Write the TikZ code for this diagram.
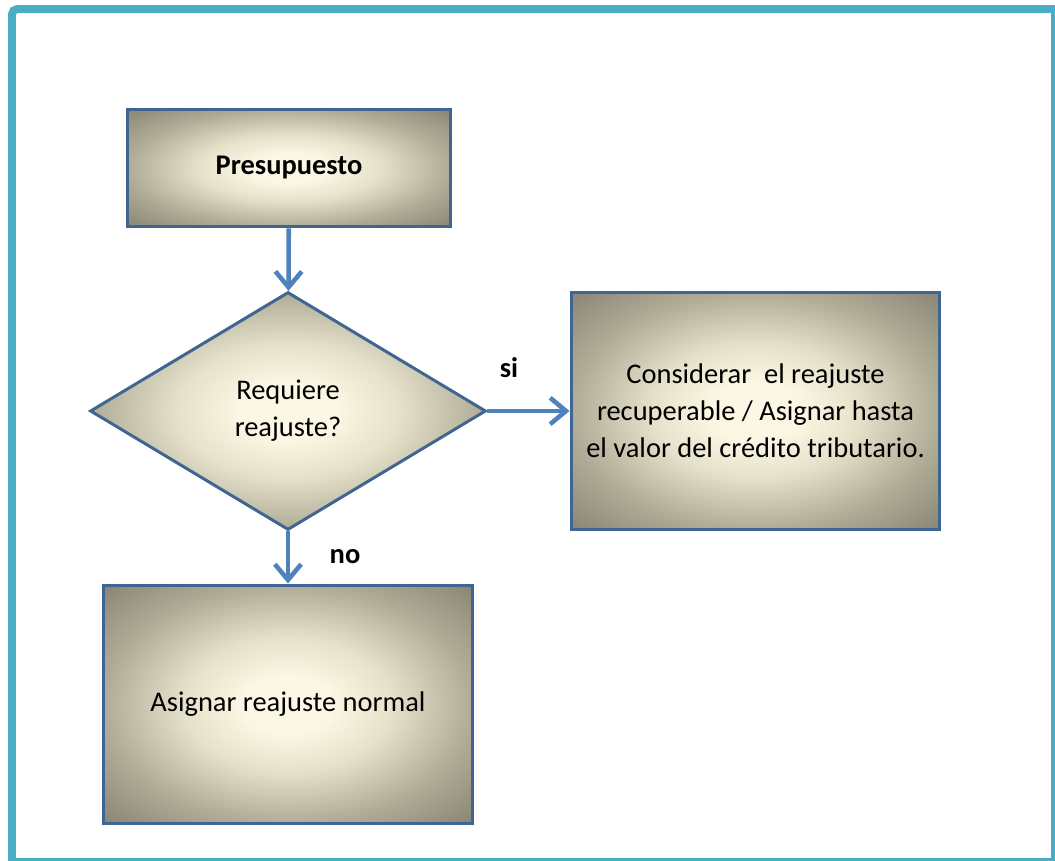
\documentclass[tikz,border=0pt]{standalone}
\usepackage{fontspec}
\setmainfont{Carlito}
\usetikzlibrary{shapes.geometric,arrows.meta}

\definecolor{frameteal}{HTML}{4BACC6}
\definecolor{edgeblue}{HTML}{3F6592}
\definecolor{arrowblue}{HTML}{4F81BD}
\definecolor{glowin}{HTML}{FBF7E4}
\definecolor{glowmid}{HTML}{E6E1CA}
\definecolor{glowedge}{HTML}{B0AB96}
\definecolor{glowout}{HTML}{8A8675}

\pgfdeclareradialshading{boxglow}{\pgfpointorigin}{color(0bp)=(glowin); color(6bp)=(glowin); color(14bp)=(glowmid); color(25bp)=(glowedge); color(35bp)=(glowout); color(50bp)=(glowout)}

\begin{document}
\begin{tikzpicture}[
    x=0.02cm, y=-0.02cm,
    box/.style={rectangle, draw=edgeblue, line width=1.7pt, shading=boxglow, align=center, font=\fontsize{16.2}{21}\selectfont},
    decision/.style={diamond, draw=edgeblue, line width=1.7pt, shading=boxglow, inner sep=0pt, align=center, font=\fontsize{16.2}{21}\selectfont},
    arrow/.style={-{Straight Barb[length=9pt,width=15pt]}, draw=arrowblue, line width=2.6pt},
    label/.style={font=\fontsize{16.2}{21}\selectfont\bfseries}
]
\useasboundingbox (0,0) rectangle (1055,861);

% Marco
\draw[frameteal, line width=4.5pt, rounded corners=3pt] (12,861) -- (12,9) -- (1055,9);
\draw[frameteal, line width=1.8pt] (1053,9) -- (1053,859.5) -- (12,859.5);

% Cajas
\node[box, minimum width=6.48cm, minimum height=2.36cm, font=\fontsize{16.2}{21}\selectfont\bfseries] (presup) at (289,168) {Presupuesto};
\node[decision, minimum width=7.92cm, minimum height=4.76cm] (reqreaj) at (288,411) {Requiere\\reajuste?};
\node[box, minimum width=7.38cm, minimum height=4.76cm] (recup) at (755.5,411) {Considerar~ el reajuste\\recuperable / Asignar hasta\\el valor del crédito tributario.};
\node[box, minimum width=7.4cm, minimum height=4.78cm] (normal) at (288,704.5) {Asignar reajuste normal};

% Flechas
\draw[arrow] (presup) -- (reqreaj);
\draw[arrow] (reqreaj.east) -- (recup.west);
\draw[arrow] (reqreaj) -- (normal);

% Etiquetas
\node[label] (si) at (509,368) {si};
\node[label] (no) at (345,557) {no};

\end{tikzpicture}
\end{document}
